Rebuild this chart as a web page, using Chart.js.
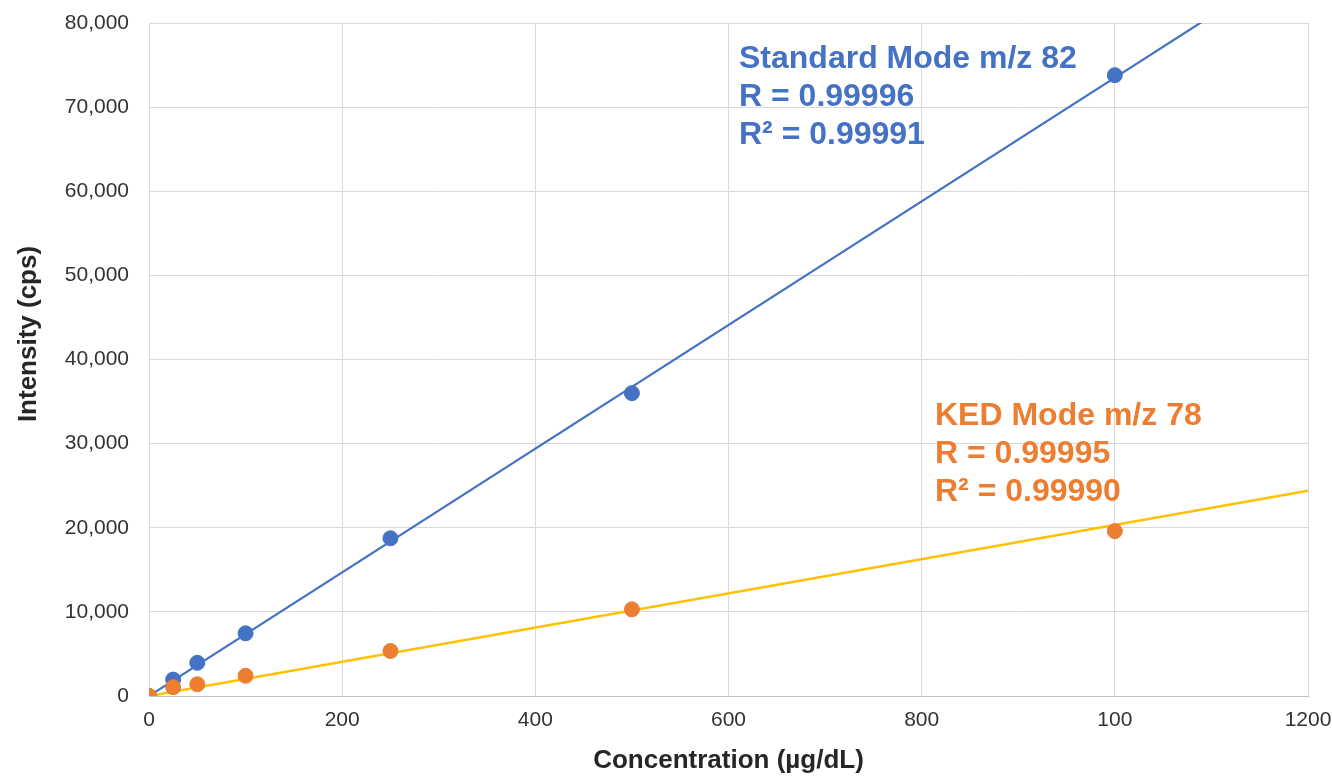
<!DOCTYPE html>
<html>
<head>
<meta charset="utf-8">
<script src="https://cdn.jsdelivr.net/npm/chart.js@4"></script>
<style>
  html, body { margin: 0; padding: 0; background: #ffffff; }
  #wrap { width: 1332px; height: 776px; }
</style>
</head>
<body>
<div id="wrap"><canvas id="c" width="1332" height="776"></canvas></div>
<script>
// ---- data ----
const concentration = [0, 25, 50, 100, 250, 500, 1000];
const standardIntensity = [0, 1950, 3950, 7450, 18750, 36000, 73800];
const kedIntensity = [0, 1050, 1400, 2400, 5350, 10300, 19600];

// trend line end points (x from 0 to 1200)
const trendX = [0, 1200];
const standardTrend = [0, 88200];
const kedTrend = [0, 24400];

const xTickLabels = ['0', '200', '400', '600', '800', '100', '1200'];
const yTickValues = [0, 10000, 20000, 30000, 40000, 50000, 60000, 70000, 80000];

const standardLabel = ['Standard Mode m/z 82', 'R = 0.99996', 'R\u00B2 = 0.99991'];
const kedLabel = ['KED Mode m/z 78', 'R = 0.99995', 'R\u00B2 = 0.99990'];
const xTitle = 'Concentration (\u00B5g/dL)';
const yTitle = 'Intensity (cps)';

const BLUE = '#4472C4';
const ORANGE = '#ED7D31';
const YELLOW = '#FFC000';
const FONT = '"Liberation Sans", Arial, Helvetica, sans-serif';

const pts = (xs, ys) => xs.map((x, i) => ({ x: x, y: ys[i] }));

const textPlugin = {
  id: 'annotText',
  afterDraw(chart) {
    const ctx = chart.ctx;
    ctx.save();
    ctx.font = 'bold 32px ' + FONT;
    ctx.textBaseline = 'alphabetic';
    ctx.textAlign = 'left';
    ctx.fillStyle = BLUE;
    const blueBase = [68, 106, 144];
    standardLabel.forEach((t, i) => ctx.fillText(t, 739, blueBase[i]));
    ctx.fillStyle = ORANGE;
    const orBase = [425, 463, 501];
    kedLabel.forEach((t, i) => ctx.fillText(t, 935, orBase[i]));
    // y axis title
    ctx.fillStyle = '#262626';
    ctx.font = 'bold 26px ' + FONT;
    ctx.textAlign = 'center';
    ctx.textBaseline = 'middle';
    ctx.translate(29, 334);
    ctx.rotate(-Math.PI / 2);
    ctx.fillText(yTitle, 0, 0);
    ctx.restore();
  }
};

new Chart(document.getElementById('c'), {
  type: 'scatter',
  data: {
    datasets: [
      {
        label: 'KED points',
        data: pts(concentration, kedIntensity),
        backgroundColor: ORANGE,
        borderColor: ORANGE,
        pointRadius: 7.5,
        pointHoverRadius: 7.5,
        showLine: false,
        order: 0
      },
      {
        label: 'Standard points',
        data: pts(concentration, standardIntensity),
        backgroundColor: BLUE,
        borderColor: BLUE,
        pointRadius: 7.5,
        pointHoverRadius: 7.5,
        showLine: false,
        order: 1
      },
      {
        label: 'KED trend',
        data: pts(trendX, kedTrend),
        borderColor: YELLOW,
        borderWidth: 2.5,
        pointRadius: 0,
        showLine: true,
        order: 2
      },
      {
        label: 'Standard trend',
        data: pts(trendX, standardTrend),
        borderColor: BLUE,
        borderWidth: 2.2,
        pointRadius: 0,
        showLine: true,
        order: 3
      }
    ]
  },
  options: {
    responsive: false,
    animation: false,
    devicePixelRatio: 1,
    layout: { padding: { top: 23, right: 24, left: 0, bottom: 0 } },
    plugins: {
      legend: { display: false },
      tooltip: { enabled: false }
    },
    scales: {
      x: {
        type: 'linear',
        min: 0,
        max: 1200,
        afterFit(scale) {
          scale.height = 80;
          scale.paddingLeft = 0;
          scale.paddingRight = 0;
        },
        afterBuildTicks(scale) {
          scale.ticks = xTickLabels.map((_, i) => ({ value: i * 200 }));
        },
        ticks: {
          padding: 12,
          maxRotation: 0,
          color: '#333333',
          font: { family: FONT, size: 21 },
          callback: (v) => xTickLabels[Math.round(v / 200)]
        },
        grid: { color: '#d9d9d9', lineWidth: 1, drawTicks: false },
        border: { display: true, color: '#bfbfbf', width: 1 },
        title: {
          display: true,
          text: xTitle,
          color: '#262626',
          font: { family: FONT, size: 26, weight: 'bold' },
          padding: { top: 0, bottom: 0 }
        }
      },
      y: {
        type: 'linear',
        min: 0,
        max: 80000,
        afterFit(scale) {
          scale.width = 149;
          scale.paddingTop = 0;
          scale.paddingBottom = 0;
        },
        afterBuildTicks(scale) {
          scale.ticks = yTickValues.map(v => ({ value: v }));
        },
        ticks: {
          padding: 20,
          color: '#333333',
          font: { family: FONT, size: 21 },
          callback: (v) => v.toLocaleString('en-US')
        },
        grid: { color: '#d9d9d9', lineWidth: 1, drawTicks: false },
        border: { display: true, color: '#d9d9d9', width: 1 }
      }
    }
  },
  plugins: [textPlugin]
});
</script>
</body>
</html>
